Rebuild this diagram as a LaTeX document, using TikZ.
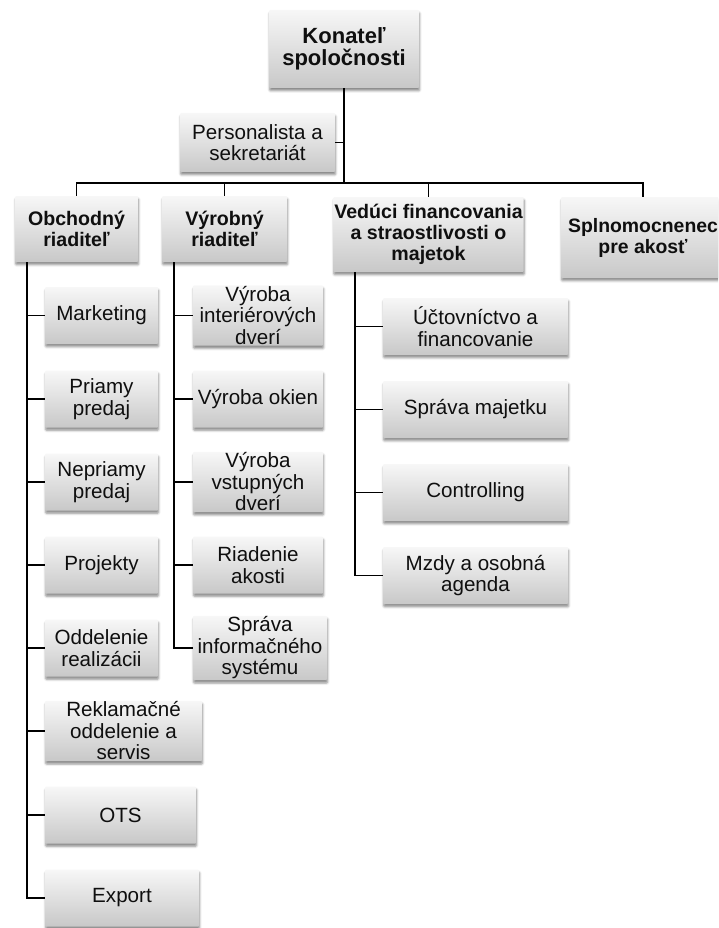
\documentclass[tikz,border=0pt]{standalone}
\usepackage{fontspec}
\setmainfont{Liberation Sans}
\usetikzlibrary{shadows.blur}

\definecolor{boxtop}{HTML}{F7F7F7}
\definecolor{boxbottom}{HTML}{C8C8C8}
\definecolor{ink}{HTML}{0F0F0F}

\tikzset{
  box/.style={
    rectangle, rounded corners=1pt, inner sep=1pt, align=center,
    top color=boxtop, bottom color=boxbottom, text=ink,
    blur shadow={shadow xshift=0.6pt, shadow yshift=-2.8pt,
                 shadow blur radius=2.2pt, shadow opacity=45},
    font=\fontsize{20.6}{21.5}\selectfont},
  headbox/.style={box, font=\fontsize{19.6}{21}\selectfont\bfseries},
  topbox/.style={box, font=\fontsize{22}{22.5}\selectfont\bfseries},
  link/.style={draw=black, line width=1.6pt},
}

\begin{document}
\begin{tikzpicture}[x=1pt, y=-1pt]
\useasboundingbox (0,0) rectangle (718,928);
\clip (0,0) rectangle (718,928);

% top management
\node[topbox, minimum width=150pt, minimum height=78pt] (kon) at (344,49)
  {Konateľ\\spoločnosti};
\node[box, minimum width=155pt, minimum height=59pt] (pers) at (257.5,142.5)
  {Personalista a\\sekretariát};

% second level
\node[headbox, minimum width=123pt, minimum height=66pt] (obch) at (76.5,229)
  {Obchodný\\riaditeľ};
\node[headbox, minimum width=125pt, minimum height=66pt] (vyr) at (224.5,229)
  {Výrobný\\riaditeľ};
\node[headbox, minimum width=183pt, minimum height=75pt] (ved) at (428.5,234.5)
  {Vedúci financovania\\a straostlivosti o\\majetok};
\node[headbox, font=\fontsize{19.4}{21}\selectfont\bfseries,
      minimum width=164pt, minimum height=81pt] (spl) at (643,237.5)
  {Splnomocnenec\\pre akosť};

% sales departments
\node[box, minimum width=113pt, minimum height=57pt] (mkt) at (101.5,315.5) {Marketing};
\node[box, minimum width=113pt, minimum height=57pt] (pri) at (101.5,399) {Priamy\\predaj};
\node[box, minimum width=113pt, minimum height=57pt] (nep) at (101.5,482) {Nepriamy\\predaj};
\node[box, minimum width=113pt, minimum height=57pt] (pro) at (101.5,565) {Projekty};
\node[box, minimum width=113pt, minimum height=57pt] (odd) at (101.5,648) {Oddelenie\\realizácii};
\node[box, minimum width=157pt, minimum height=58pt] (rek) at (123.5,731) {Reklamačné\\oddelenie a\\servis};
\node[box, minimum width=151pt, minimum height=57pt] (ots) at (120.5,815) {OTS};
\node[box, minimum width=154pt, minimum height=57pt] (exp) at (122,898) {Export};

% production departments
\node[box, minimum width=130pt, minimum height=57pt] (vid) at (258,315.5) {Výroba\\interiérových\\dverí};
\node[box, minimum width=130pt, minimum height=57pt] (vok) at (258,399) {Výroba okien};
\node[box, minimum width=130pt, minimum height=57pt] (vvd) at (258,482) {Výroba\\vstupných\\dverí};
\node[box, minimum width=130pt, minimum height=57pt] (rak) at (258,565) {Riadenie\\akosti};
\node[box, minimum width=134pt, minimum height=57pt] (sis) at (260,648) {Správa\\informačného\\systému};

% finance departments
\node[box, minimum width=185pt, minimum height=57pt] (uct) at (475.5,326.5) {Účtovníctvo a\\financovanie};
\node[box, minimum width=185pt, minimum height=57pt] (spm) at (475.5,409.5) {Správa majetku};
\node[box, minimum width=185pt, minimum height=57pt] (con) at (475.5,492.5) {Controlling};
\node[box, minimum width=185pt, minimum height=57pt] (mzd) at (475.5,575.5) {Mzdy a osobná\\agenda};

% connector junctions
\coordinate (hub) at (344,183);
\coordinate (obchT) at (27,262);
\coordinate (vyrT) at (174,262);
\coordinate (vedT) at (355,272);

% top trunk and bus
\draw[link] (kon.south) -- (hub);
\draw[link] (pers.east) -- (pers.east -| hub);
\draw[link] (hub) -| (obch.north);
\draw[link] (hub) -| (vyr.north);
\draw[link] (hub) -| (ved.north);
\draw[link] (hub) -| (spl.north);

% branch connectors
\foreach \n in {mkt,pri,nep,pro,odd,rek,ots,exp}
  \draw[link] (obchT) |- (\n.west);
\foreach \n in {vid,vok,vvd,rak,sis}
  \draw[link] (vyrT) |- (\n.west);
\foreach \n in {uct,spm,con,mzd}
  \draw[link] (vedT) |- (\n.west);
\end{tikzpicture}
\end{document}
